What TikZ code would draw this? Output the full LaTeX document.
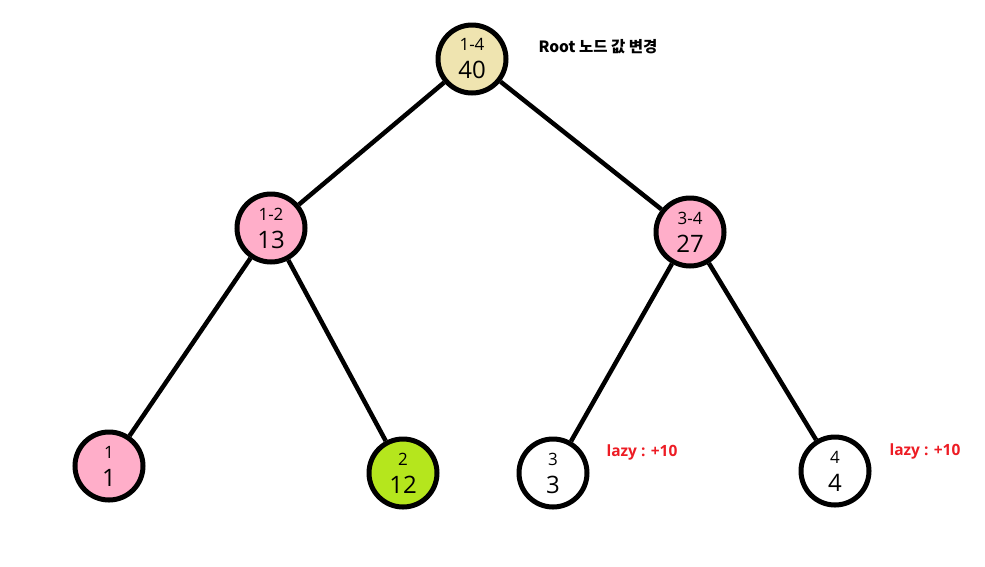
\documentclass[tikz,border=0pt]{standalone}
\usepackage{fontspec}
\setmainfont{Open Sans}
\newfontfamily\krfont{Noto Sans CJK KR}
\usepackage{tikz}
\usetikzlibrary{positioning}
\definecolor{Beige}{HTML}{EFE4B0}
\definecolor{Pink}{HTML}{FFAEC9}
\definecolor{Lime}{HTML}{B5E61D}
\definecolor{LazyRed}{HTML}{ED1C24}
\newcommand{\rng}[1]{{\fontsize{17}{17}\selectfont #1}}

\begin{document}
\begin{tikzpicture}[
    x=1pt, y=-1pt,
    % 구간 노드: 위에 구간, 아래에 값
    tnode/.style={circle, draw=black, line width=5pt, minimum size=68pt, inner sep=0pt, align=center, font=\fontsize{24}{24}\selectfont},
    edge/.style={line width=4.5pt},
    lazy/.style={anchor=west, text=LazyRed, font=\bfseries\fontsize{15.5}{17}\selectfont}
]
\useasboundingbox (0,0) rectangle (985,566);

% 트리 노드
\node[tnode, fill=Beige] (n14) at (472,59) {\rng{1-4}\\[4pt]40};
\node[tnode, fill=Pink] (n12) at (271,228) {\rng{1-2}\\[4pt]13};
\node[tnode, fill=Pink] (n34) at (690,232) {\rng{3-4}\\[4pt]27};
\node[tnode, fill=Pink] (n1) at (109,466) {\rng{1}\\[4pt]1};
\node[tnode, fill=Lime] (n2) at (403,473) {\rng{2}\\[4pt]12};
\node[tnode, fill=white] (n3) at (553,473) {\rng{3}\\[4pt]3};
\node[tnode, fill=white] (n4) at (835,471) {\rng{4}\\[4pt]4};

% 간선
\draw[edge] (n14) -- (n12);
\draw[edge] (n14) -- (n34);
\draw[edge] (n12) -- (n1);
\draw[edge] (n12) -- (n2);
\draw[edge] (n34) -- (n3);
\draw[edge] (n34) -- (n4);

% 설명
\node[anchor=west, font=\krfont\bfseries\fontsize{15.5}{17}\selectfont] (note) at (535,47) {Root 노드 값 변경};
\node[lazy] (lazy3) at (603,452) {lazy : +10};
\node[lazy] (lazy4) at (886,451) {lazy : +10};

\end{tikzpicture}
\end{document}
